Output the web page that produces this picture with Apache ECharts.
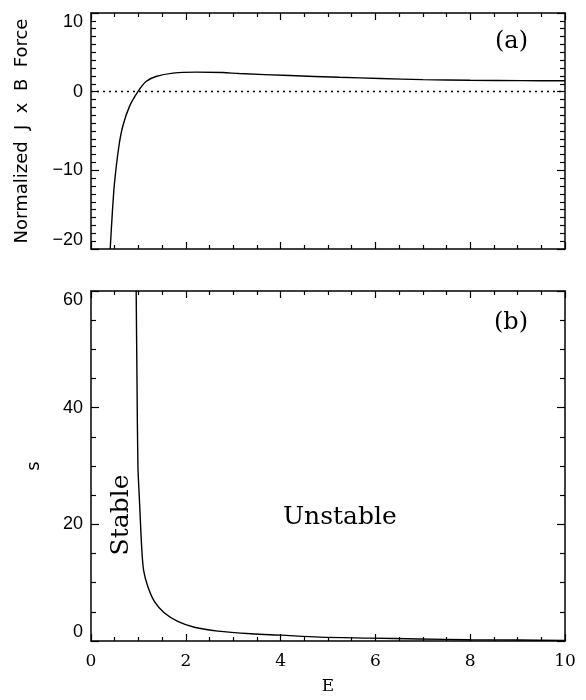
<!DOCTYPE html>
<html>
<head>
    <meta charset="utf-8">
    <title>J x B force and s vs E</title>
    <script src="https://cdn.jsdelivr.net/npm/echarts@6/dist/echarts.min.js"></script>
    <style>
        body { margin: 0; background: #fff; }
        #chart { width: 586px; height: 700px; }
    </style>
</head>
<body>
<div id="chart"></div>
<script>
    // panel (a): normalized J x B force against E
    var forceE = [0.405, 0.45, 0.496, 0.587, 0.67, 0.81, 0.99, 1.16, 1.37, 1.73, 2.22, 2.78, 3.13, 4.19, 5.24, 6.1, 7.0, 8.0, 9.1, 10.0]
    var forceVal = [-20, -15.4, -11.6, -7.0, -4.4, -1.9, 0, 1.29, 1.93, 2.36, 2.49, 2.43, 2.3, 2.05, 1.83, 1.68, 1.53, 1.45, 1.4, 1.38]

    // panel (b): s against E
    var sE = [0.953, 0.97, 0.99, 1.02, 1.07, 1.11, 1.2, 1.34, 1.55, 1.83, 2.18, 2.68, 3.38, 4.01, 4.82, 5.88, 6.93, 7.99, 9.0, 10.0]
    var sVal = [60, 45, 30, 24.5, 16, 12.1, 9.3, 6.75, 4.8, 3.37, 2.36, 1.69, 1.24, 1.0, 0.67, 0.5, 0.34, 0.22, 0.16, 0.11]

    var xTicks = [0, 2, 4, 6, 8, 10]
    var forceTicks = [-20, -10, 0, 10]
    var sTicks = [0, 20, 40, 60]

    function pairs(xs, ys) {
        var out = []
        for (let i = 0; i < xs.length; i++) {
            out.push([xs[i], ys[i]])
        }
        return out
    }

    var black = '#000'
    var sans = 'DejaVu Sans'
    var serif = 'DejaVu Serif'

    function xAxis(grid, pos, showLabels) {
        return {
            type: 'value', gridIndex: grid, position: pos,
            min: xTicks[0], max: xTicks[xTicks.length - 1], interval: 2,
            axisLine: {onZero: false, lineStyle: {color: black, width: 1.5}},
            axisTick: {inside: true, length: 7, lineStyle: {color: black, width: 1.2}},
            minorTick: {show: true, splitNumber: 4, length: 4, lineStyle: {color: black, width: 1.2}},
            splitLine: {show: false},
            axisLabel: {show: showLabels, color: black, fontFamily: serif, fontSize: 17, margin: 12},
            name: showLabels ? 'E' : '', nameLocation: 'middle', nameGap: 37,
            nameTextStyle: {color: black, fontFamily: serif, fontSize: 17}
        }
    }

    function yAxis(grid, pos, ticks, interval, minorSplit, name, nameGap, showLabels) {
        return {
            type: 'value', gridIndex: grid, position: pos,
            min: ticks[0], max: ticks[ticks.length - 1], interval: interval,
            axisLine: {show: true, onZero: false, lineStyle: {color: black, width: 1.5}},
            axisTick: {show: true, inside: true, length: 8, lineStyle: {color: black, width: 1.2}},
            minorTick: {show: true, splitNumber: minorSplit, length: 5, lineStyle: {color: black, width: 1.2}},
            splitLine: {show: false},
            axisLabel: {
                show: showLabels, color: black, fontFamily: 'Liberation Sans', fontSize: 18, margin: 8,
                verticalAlignMaxLabel: 'top', verticalAlignMinLabel: 'bottom',
                formatter: function (v) { return String(v).replace('-', '\u2212') }
            },
            name: name, nameLocation: 'middle', nameGap: nameGap,
            nameTextStyle: {color: black, fontFamily: sans, fontSize: 18}
        }
    }

    var myChart = echarts.init(document.getElementById('chart'))
    myChart.setOption({
        animation: false,
        backgroundColor: '#fff',
        grid: [
            {left: 91, right: 21, top: 13, height: 236},
            {left: 91, right: 21, top: 291, height: 354}
        ],
        xAxis: [
            xAxis(0, 'bottom', false),
            xAxis(0, 'top', false),
            xAxis(1, 'bottom', true),
            xAxis(1, 'top', false)
        ],
        yAxis: [
            yAxis(0, 'left', forceTicks, 10, 10, 'Normalized  J  x  B  Force', 60, true),
            yAxis(0, 'right', forceTicks, 10, 10, '', 0, false),
            yAxis(1, 'left', sTicks, 20, 4, 's', 48, true),
            yAxis(1, 'right', sTicks, 20, 4, '', 0, false)
        ],
        series: [
            {
                type: 'line', xAxisIndex: 0, yAxisIndex: 0,
                data: pairs(forceE, forceVal), smooth: 0.3, showSymbol: false,
                lineStyle: {color: black, width: 1.4},
                markLine: {
                    silent: true, symbol: 'none', label: {show: false},
                    lineStyle: {color: black, type: [2, 4], width: 1.4},
                    data: [{yAxis: 0}]
                }
            },
            {
                type: 'line', xAxisIndex: 2, yAxisIndex: 2,
                data: pairs(sE, sVal), smooth: 0.3, showSymbol: false,
                lineStyle: {color: black, width: 1.4}
            }
        ],
        graphic: [
            {type: 'text', left: 495, top: 30, style: {text: '(a)', font: '24px "DejaVu Serif"', fill: black}},
            {type: 'text', left: 494, top: 311, style: {text: '(b)', font: '24px "DejaVu Serif"', fill: black}},
            {type: 'text', left: 283, top: 505, style: {text: 'Unstable', font: '25px "DejaVu Serif"', fill: black}},
            {type: 'text', x: 121, y: 515, rotation: Math.PI / 2,
                style: {text: 'Stable', font: '25px "DejaVu Serif"', fill: black, align: 'center', verticalAlign: 'middle'}}
        ]
    })
</script>
</body>
</html>
